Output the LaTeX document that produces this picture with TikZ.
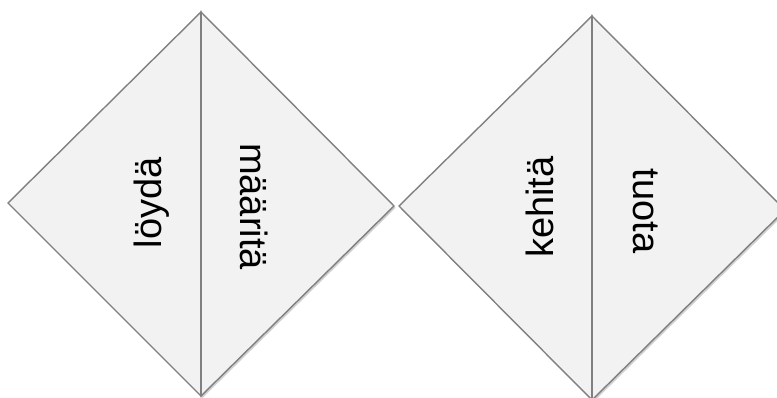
\documentclass[tikz,border=0pt]{standalone}
\usepackage{fontspec}
\setmainfont{Liberation Sans}
\usetikzlibrary{shadows}
\definecolor{facefill}{HTML}{F2F2F2}
\definecolor{edgegray}{HTML}{808080}
\tikzset{
  half/.style={fill=facefill, draw=edgegray, line width=1.4pt, line join=miter,
    drop shadow={shadow xshift=1.5pt, shadow yshift=-2pt, opacity=0.18, fill=black}},
  divider/.style={draw=edgegray, line width=1.6pt},
  word/.style={font=\fontsize{38}{40}\selectfont, inner sep=0pt, anchor=base}
}
\begin{document}
\begin{tikzpicture}[x=1pt,y=1pt]
\useasboundingbox (0,0) rectangle (777,397);
\clip (0,0) rectangle (777,397);
\fill[white] (0,0) rectangle (777,397);
% left diamond: left (8,194) top (201,385) right (393,191) bottom (201,1)
\coordinate (LT) at (201,385);
\coordinate (LB) at (201,1);
\coordinate (LL) at (8,194);
\coordinate (LR) at (394,191);
\path[half] (LT) -- (LL) -- (LB) -- cycle;
\path[half] (LT) -- (LR) -- (LB) -- cycle;
\draw[divider] (LT) -- (LB);
% right diamond
\coordinate (RT) at (592,381);
\coordinate (RB) at (592,-3);
\coordinate (RL) at (399,191);
\coordinate (RR) at (785,187);
\path[half] (RT) -- (RL) -- (RB) -- cycle;
\path[half] (RT) -- (RR) -- (RB) -- cycle;
\draw[divider] (RT) -- (RB);
% words
\node[word, rotate=90] (w1) at (161.5,194) {löydä};
\node[word, rotate=-90] (w2) at (240,190.5) {määritä};
\node[word, rotate=90] (w3) at (553,190) {kehitä};
\node[word, rotate=-90] (w4) at (633,186) {tuota};
\end{tikzpicture}
\end{document}
